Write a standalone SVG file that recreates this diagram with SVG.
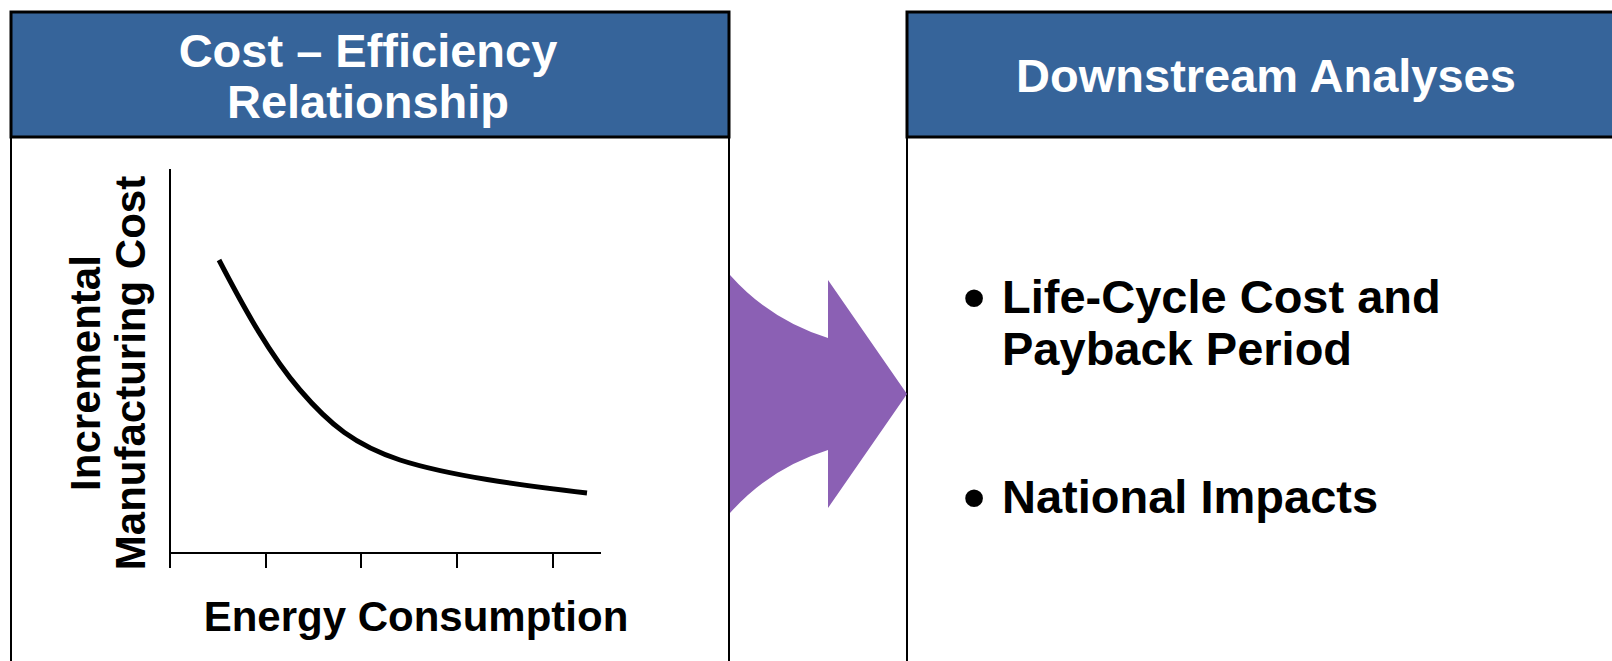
<svg xmlns="http://www.w3.org/2000/svg" width="1612" height="661" viewBox="0 0 1612 661">
<style>
.hdr{fill:#36649A;stroke:#000;stroke-width:3}
.body{fill:#fff;stroke:#000;stroke-width:2}
.ht{font-family:"Liberation Sans",Arial,sans-serif;font-weight:bold;font-size:47px;fill:#fff;text-anchor:middle}
.bt{font-family:"Liberation Sans",Arial,sans-serif;font-weight:bold;font-size:47px;fill:#000}
.bu{font-family:"Liberation Sans",Arial,sans-serif;font-weight:bold;font-size:62px;fill:#000;text-anchor:middle}
.ax{font-family:"Liberation Sans",Arial,sans-serif;font-weight:bold;font-size:42px;fill:#000;text-anchor:middle}
.axis{stroke:#000;stroke-width:2;fill:none}
</style>
<rect width="1612" height="661" fill="#fff"/>
<g id="cost-efficiency">
<rect class="body" x="11" y="137" width="718" height="560"/>
<rect class="hdr" x="11" y="12" width="718" height="125"/>
<text class="ht" x="368" y="67">Cost – Efficiency</text>
<text class="ht" x="368" y="118">Relationship</text>
<g id="chart">
<path class="axis" d="M170 169 V553 H601 M170 553 V568 M266 553 V568 M361 553 V568 M457 553 V568 M553 553 V568"/>
<path d="M219 260 C245 310 270 355 300 390 C330 425 355 445 400 460 C450 476 520 485 587 493" fill="none" stroke="#000" stroke-width="5"/>
<text class="ax" transform="translate(100 373) rotate(-90)">Incremental</text>
<text class="ax" transform="translate(145 373) rotate(-90)">Manufacturing Cost</text>
<text class="ax" x="416" y="631">Energy Consumption</text>
</g>
</g>
<g id="downstream">
<rect class="body" x="907" y="137" width="720" height="560"/>
<rect class="hdr" x="907" y="12" width="720" height="125"/>
<text class="ht" x="1266" y="92">Downstream Analyses</text>
<text class="bu" x="974" y="318">•</text>
<text class="bt" x="1002" y="313">Life-Cycle Cost and</text>
<text class="bt" x="1002" y="365">Payback Period</text>
<text class="bu" x="974" y="518">•</text>
<text class="bt" x="1002" y="513">National Impacts</text>
</g>
<g id="connectors">
<path d="M730 275 Q770 320 828 338 V280 L907 394 L828 508 V450 Q770 468 730 513 Z" fill="#8B60B4"/>
</g>
</svg>
